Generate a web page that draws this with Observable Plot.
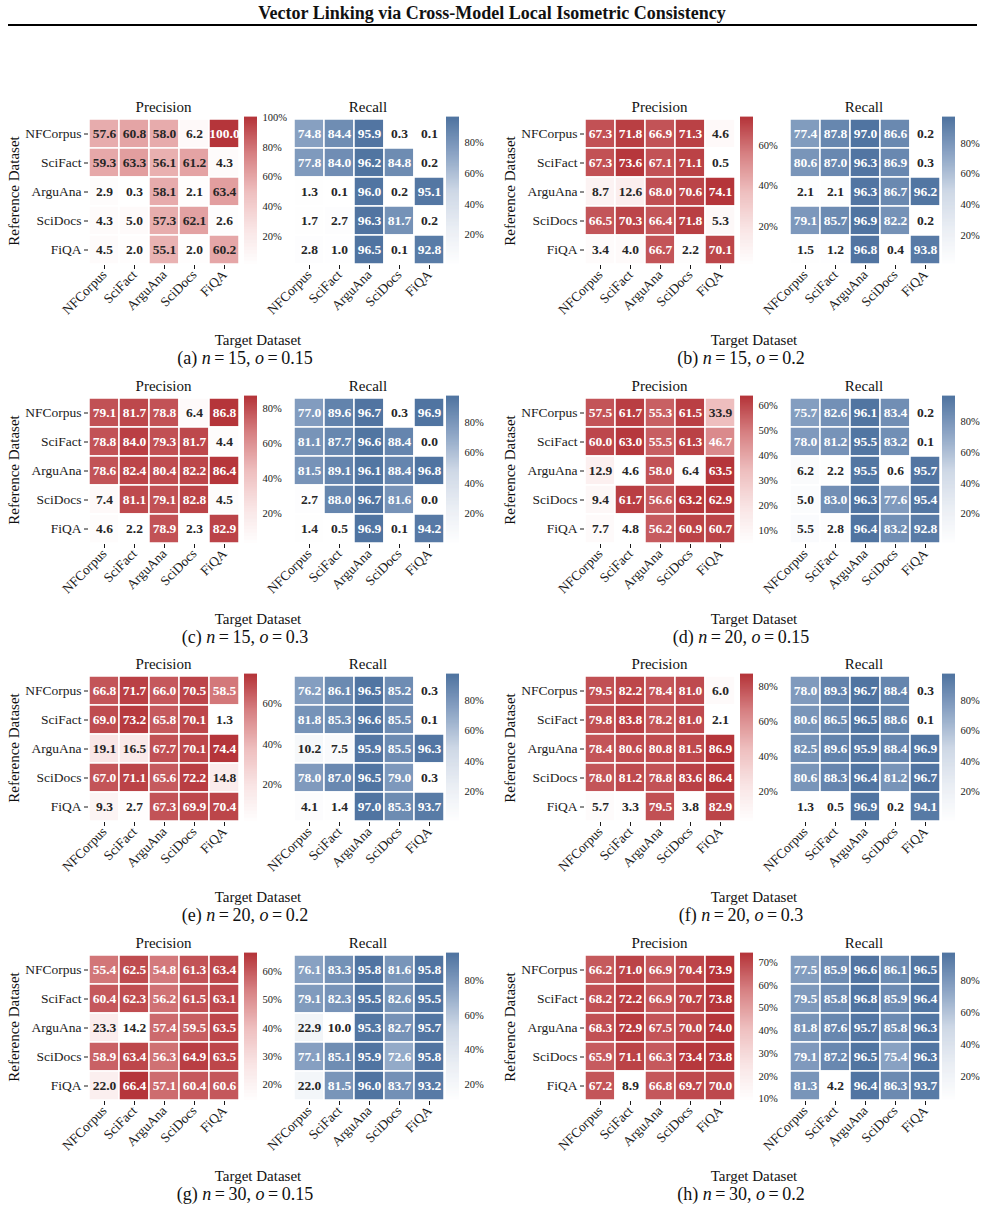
<!DOCTYPE html>
<html>
<head>
<meta charset="utf-8">
<script src="https://cdn.jsdelivr.net/npm/d3@7"></script>
<script src="https://cdn.jsdelivr.net/npm/@observablehq/plot@0.6"></script>
<style>
  html, body { margin: 0; background: #fff; overflow: hidden; }
  #fig { position: relative; width: 985px; height: 1211px; font-family: "Liberation Serif", "Times New Roman", serif; color: #111; }
  .lbl { position: absolute; white-space: nowrap; transform: translate(-50%, -50%); line-height: 1; }
  .box { position: absolute; }
  .box svg { overflow: visible; max-width: none !important; display: block; }
</style>
</head>
<body>
<div id="fig"></div>
<script>
// Datasets used both as reference (rows) and target (columns)
const datasets = ["NFCorpus", "SciFact", "ArguAna", "SciDocs", "FiQA"];

// Configurations (neighbourhood size n, overlap o)
const configTags = ["a", "b", "c", "d", "e", "f", "g", "h"];
const configN = [15, 15, 15, 20, 20, 20, 30, 30];
const configO = [0.15, 0.2, 0.3, 0.15, 0.2, 0.3, 0.15, 0.2];

// (a) n=15, o=0.15
const precisionA = [
  [57.6, 60.8, 58.0, 6.2, 100.0],
  [59.3, 63.3, 56.1, 61.2, 4.3],
  [2.9, 0.3, 58.1, 2.1, 63.4],
  [4.3, 5.0, 57.3, 62.1, 2.6],
  [4.5, 2.0, 55.1, 2.0, 60.2]
];
const recallA = [
  [74.8, 84.4, 95.9, 0.3, 0.1],
  [77.8, 84.0, 96.2, 84.8, 0.2],
  [1.3, 0.1, 96.0, 0.2, 95.1],
  [1.7, 2.7, 96.3, 81.7, 0.2],
  [2.8, 1.0, 96.5, 0.1, 92.8]
];
// (b) n=15, o=0.2
const precisionB = [
  [67.3, 71.8, 66.9, 71.3, 4.6],
  [67.3, 73.6, 67.1, 71.1, 0.5],
  [8.7, 12.6, 68.0, 70.6, 74.1],
  [66.5, 70.3, 66.4, 71.8, 5.3],
  [3.4, 4.0, 66.7, 2.2, 70.1]
];
const recallB = [
  [77.4, 87.8, 97.0, 86.6, 0.2],
  [80.6, 87.0, 96.3, 86.9, 0.3],
  [2.1, 2.1, 96.3, 86.7, 96.2],
  [79.1, 85.7, 96.9, 82.2, 0.2],
  [1.5, 1.2, 96.8, 0.4, 93.8]
];
// (c) n=15, o=0.3
const precisionC = [
  [79.1, 81.7, 78.8, 6.4, 86.8],
  [78.8, 84.0, 79.3, 81.7, 4.4],
  [78.6, 82.4, 80.4, 82.2, 86.4],
  [7.4, 81.1, 79.1, 82.8, 4.5],
  [4.6, 2.2, 78.9, 2.3, 82.9]
];
const recallC = [
  [77.0, 89.6, 96.7, 0.3, 96.9],
  [81.1, 87.7, 96.6, 88.4, 0.0],
  [81.5, 89.1, 96.1, 88.4, 96.8],
  [2.7, 88.0, 96.7, 81.6, 0.0],
  [1.4, 0.5, 96.9, 0.1, 94.2]
];
// (d) n=20, o=0.15
const precisionD = [
  [57.5, 61.7, 55.3, 61.5, 33.9],
  [60.0, 63.0, 55.5, 61.3, 46.7],
  [12.9, 4.6, 58.0, 6.4, 63.5],
  [9.4, 61.7, 56.6, 63.2, 62.9],
  [7.7, 4.8, 56.2, 60.9, 60.7]
];
const recallD = [
  [75.7, 82.6, 96.1, 83.4, 0.2],
  [78.0, 81.2, 95.5, 83.2, 0.1],
  [6.2, 2.2, 95.5, 0.6, 95.7],
  [5.0, 83.0, 96.3, 77.6, 95.4],
  [5.5, 2.8, 96.4, 83.2, 92.8]
];
// (e) n=20, o=0.2
const precisionE = [
  [66.8, 71.7, 66.0, 70.5, 58.5],
  [69.0, 73.2, 65.8, 70.1, 1.3],
  [19.1, 16.5, 67.7, 70.1, 74.4],
  [67.0, 71.1, 65.6, 72.2, 14.8],
  [9.3, 2.7, 67.3, 69.9, 70.4]
];
const recallE = [
  [76.2, 86.1, 96.5, 85.2, 0.3],
  [81.8, 85.3, 96.6, 85.5, 0.1],
  [10.2, 7.5, 95.9, 85.5, 96.3],
  [78.0, 87.0, 96.5, 79.0, 0.3],
  [4.1, 1.4, 97.0, 85.3, 93.7]
];
// (f) n=20, o=0.3
const precisionF = [
  [79.5, 82.2, 78.4, 81.0, 6.0],
  [79.8, 83.8, 78.2, 81.0, 2.1],
  [78.4, 80.6, 80.8, 81.5, 86.9],
  [78.0, 81.2, 78.8, 83.6, 86.4],
  [5.7, 3.3, 79.5, 3.8, 82.9]
];
const recallF = [
  [78.0, 89.3, 96.7, 88.4, 0.3],
  [80.6, 86.5, 96.5, 88.6, 0.1],
  [82.5, 89.6, 95.9, 88.4, 96.9],
  [80.6, 88.3, 96.4, 81.2, 96.7],
  [1.3, 0.5, 96.9, 0.2, 94.1]
];
// (g) n=30, o=0.15
const precisionG = [
  [55.4, 62.5, 54.8, 61.3, 63.4],
  [60.4, 62.3, 56.2, 61.5, 63.1],
  [23.3, 14.2, 57.4, 59.5, 63.5],
  [58.9, 63.4, 56.3, 64.9, 63.5],
  [22.0, 66.4, 57.1, 60.4, 60.6]
];
const recallG = [
  [76.1, 83.3, 95.8, 81.6, 95.8],
  [79.1, 82.3, 95.5, 82.6, 95.5],
  [22.9, 10.0, 95.3, 82.7, 95.7],
  [77.1, 85.1, 95.9, 72.6, 95.8],
  [22.0, 81.5, 96.0, 83.7, 93.2]
];
// (h) n=30, o=0.2
const precisionH = [
  [66.2, 71.0, 66.9, 70.4, 73.9],
  [68.2, 72.2, 66.9, 70.7, 73.8],
  [68.3, 72.9, 67.5, 70.0, 74.0],
  [65.9, 71.1, 66.3, 73.4, 73.8],
  [67.2, 8.9, 66.8, 69.7, 70.0]
];
const recallH = [
  [77.5, 85.9, 96.6, 86.1, 96.5],
  [79.5, 85.8, 96.8, 85.9, 96.4],
  [81.8, 87.6, 95.7, 85.8, 96.3],
  [79.1, 87.2, 96.5, 75.4, 96.3],
  [81.3, 4.2, 96.4, 86.3, 93.7]
];

const precisionSets = [precisionA, precisionB, precisionC, precisionD, precisionE, precisionF, precisionG, precisionH];
const recallSets = [recallA, recallB, recallC, recallD, recallE, recallF, recallG, recallH];

// Sequential ramps: white -> red for precision, white -> steel blue for recall
const redRamp = d3.piecewise(d3.interpolateRgb, ["#ffffff", "rgb(249,229,229)", "rgb(238,190,190)", "rgb(215,130,132)", "rgb(181,53,58)"]);
const blueRamp = d3.piecewise(d3.interpolateRgb, ["#ffffff", "rgb(234,238,244)", "rgb(206,216,230)", "rgb(141,165,197)", "rgb(80,116,161)"]);

const FONT = '"Liberation Serif", "Times New Roman", serif';
const GRID_W = 151, GRID_H = 148;
const fig = document.getElementById("fig");

function luminance(c) {
  const { r, g, b } = d3.rgb(c);
  const lin = v => { v /= 255; return v <= 0.03928 ? v / 12.92 : Math.pow((v + 0.055) / 1.055, 2.4); };
  return 0.2126 * lin(r) + 0.7152 * lin(g) + 0.0722 * lin(b);
}

function put(node, left, top) {
  const box = document.createElement("div");
  box.className = "box";
  box.style.left = left + "px";
  box.style.top = top + "px";
  box.style.width = node.getAttribute("width") + "px";
  box.appendChild(node);
  fig.appendChild(box);
}

function label(html, cx, cy, size, extra = "") {
  const el = document.createElement("div");
  el.className = "lbl";
  el.style.left = cx + "px";
  el.style.top = cy + "px";
  el.style.fontSize = size + "px";
  el.style.cssText += extra;
  el.innerHTML = html;
  fig.appendChild(el);
}

function heatmap(values, ramp, showY) {
  const cells = values.flatMap((row, i) => row.map((v, j) => ({ ref: datasets[i], tgt: datasets[j], v })));
  const [lo, hi] = d3.extent(cells, d => d.v);
  const isLight = d => luminance(ramp((d.v - lo) / (hi - lo))) > 0.408;
  const mL = showY ? 88 : 2, mR = 2, mT = 2, mB = 80;
  const textOpts = { x: "tgt", y: "ref", text: d => d.v.toFixed(1), fontWeight: "bold", fontSize: 13.5, fontFamily: FONT };
  const svg = Plot.plot({
    width: mL + GRID_W + mR,
    height: mT + GRID_H + mB,
    marginLeft: mL, marginRight: mR, marginTop: mT, marginBottom: mB,
    style: { fontFamily: FONT, fontSize: "13.5px", color: "#1a1a1a", background: "transparent", overflow: "visible" },
    x: { domain: datasets, padding: 0, tickRotate: -45, tickSize: 4, tickPadding: 3, label: null },
    y: { domain: datasets, padding: 0, tickSize: 4, tickPadding: 3, label: null, axis: showY ? "left" : null },
    color: { type: "linear", domain: [lo, hi], interpolate: ramp },
    marks: [
      Plot.cell(cells, { x: "tgt", y: "ref", fill: "v", stroke: "white", strokeWidth: 1.5, inset: 0 }),
      Plot.text(cells, { ...textOpts, filter: isLight, fill: "#262626" }),
      Plot.text(cells, { ...textOpts, filter: d => !isLight(d), fill: "white" })
    ]
  });
  return { svg, lo, hi, mL, mT };
}

function colorbar(lo, hi, ramp) {
  const N = 148;
  const steps = d3.range(N).map(i => ({ a: lo + (hi - lo) * i / N, b: lo + (hi - lo) * (i + 1) / N }));
  const ticks = d3.ticks(lo, hi, 5).filter(t => t > lo && t <= hi);
  return Plot.plot({
    width: 13 + 40, height: GRID_H + 12,
    marginLeft: 0, marginRight: 40, marginTop: 6, marginBottom: 6,
    style: { fontFamily: FONT, fontSize: "10.5px", color: "#1a1a1a", background: "transparent", overflow: "visible" },
    y: { domain: [lo, hi], axis: "right", ticks, tickFormat: d => `${d}%`, tickSize: 0, tickPadding: 5, label: null },
    color: { type: "linear", domain: [lo, hi], interpolate: ramp },
    marks: [
      Plot.rect(steps, { y1: "a", y2: "b", fill: d => (d.a + d.b) / 2, insetTop: -0.4, insetBottom: -0.4 })
    ]
  });
}

// Figure title and rule
label("Vector Linking via Cross-Model Local Isometric Consistency", 492, 13, 18, "font-weight:bold;");
const rule = document.createElement("div");
rule.style.cssText = "position:absolute;left:8px;top:24px;width:969px;height:2px;background:#000;";
fig.appendChild(rule);

configTags.forEach((tag, k) => {
  const ox = (k % 2) * 496;
  const oy = Math.floor(k / 2) * 278.5;
  const gridTop = 117 + oy;

  const p = heatmap(precisionSets[k], redRamp, true);
  put(p.svg, ox + 88 - p.mL, gridTop - p.mT);
  put(colorbar(p.lo, p.hi, redRamp), ox + 244, gridTop - 6);

  const r = heatmap(recallSets[k], blueRamp, false);
  put(r.svg, ox + 293 - r.mL, gridTop - r.mT);
  put(colorbar(r.lo, r.hi, blueRamp), ox + 446, gridTop - 6);

  label("Precision", ox + 163.5, oy + 107, 15);
  label("Recall", ox + 368, oy + 107, 15);
  label("Reference Dataset", ox + 14, gridTop + GRID_H / 2, 15, "transform:translate(-50%,-50%) rotate(-90deg);");
  label("Target Dataset", ox + 258, oy + 340, 15);
  label(`(${tag}) <i>n</i>&#8201;=&#8201;${configN[k]}, <i>o</i>&#8201;=&#8201;${configO[k]}`, ox + 245, oy + 358, 18);
});
</script>
</body>
</html>
